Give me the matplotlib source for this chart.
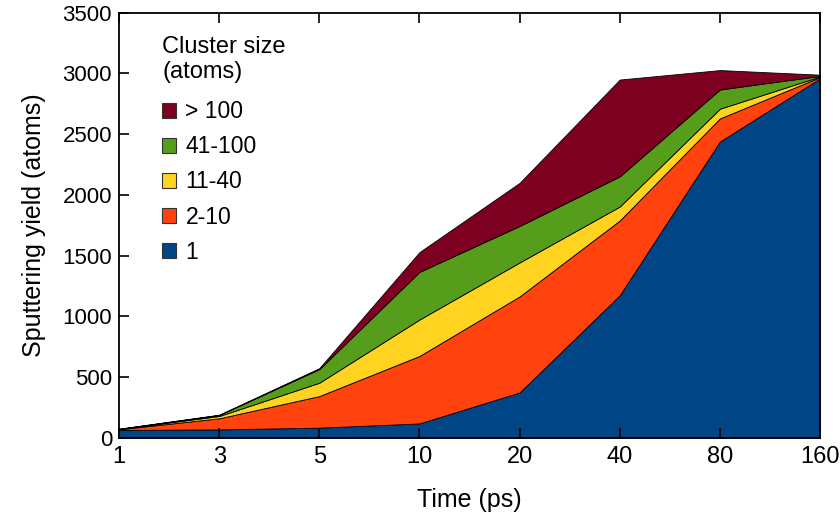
import matplotlib
matplotlib.use("Agg")
import matplotlib.pyplot as plt
from matplotlib.patches import Patch
import numpy as np

# Sampling times (ps), shown on an evenly spaced categorical axis
times = ["1", "3", "5", "10", "20", "40", "80", "160"]

# Sputtered atoms per cluster-size class at each time
size_1 = [66, 71, 85, 120, 375, 1175, 2440, 2960]
size_2_10 = [6, 91, 260, 555, 790, 615, 190, 10]
size_11_40 = [2, 19, 110, 300, 280, 115, 80, 5]
size_41_100 = [1, 8, 112, 392, 300, 248, 158, 5]
size_gt_100 = [2, 3, 8, 163, 355, 797, 160, 10]

labels = ["1", "2-10", "11-40", "41-100", "> 100"]
colors = ["#004586", "#ff420e", "#ffd320", "#579d1c", "#7e0021"]

plt.rcParams["font.family"] = ["Liberation Sans", "DejaVu Sans"]
narrow = ["Liberation Sans Narrow", "Liberation Sans", "DejaVu Sans"]

fig = plt.figure(figsize=(8.4, 5.15), dpi=100)
ax = fig.add_axes([0.1417, 0.1495, 0.8345, 0.8258])

x = np.arange(len(times))
series = [size_1, size_2_10, size_11_40, size_41_100, size_gt_100]
ax.stackplot(x, series, colors=colors, edgecolor="black", linewidth=0.6)

ax.set_xlim(0, len(times) - 1)
ax.set_ylim(0, 3500)
ax.set_xticks(x)
ax.set_xticklabels(times, fontsize=17, family=narrow)
ax.set_yticks(np.arange(0, 3501, 500))
ax.tick_params(axis="y", labelsize=16, direction="in", length=7, width=1.2,
               left=True, right=False, pad=5)
ax.tick_params(axis="x", direction="in", length=7, width=1.2,
               top=True, bottom=True, pad=6)

for sp in ax.spines.values():
    sp.set_linewidth(1.3)

ax.set_xlabel("Time (ps)", fontsize=18, family=narrow, labelpad=14)
ax.set_ylabel("Sputtering yield (atoms)", fontsize=18, labelpad=12)

handles = [Patch(facecolor=c, edgecolor="#333333", linewidth=0.8)
           for c in colors][::-1]
leg = ax.legend(handles, labels[::-1], title="Cluster size\n(atoms)",
                loc="upper left", bbox_to_anchor=(0.045, 0.972),
                frameon=False, fontsize=16.5, title_fontsize=17,
                handlelength=0.62, handleheight=0.62, handletextpad=0.4,
                labelspacing=0.53, alignment="left", borderpad=0)
leg._legend_box.sep = 12

fig.savefig("out.png", dpi=100)
